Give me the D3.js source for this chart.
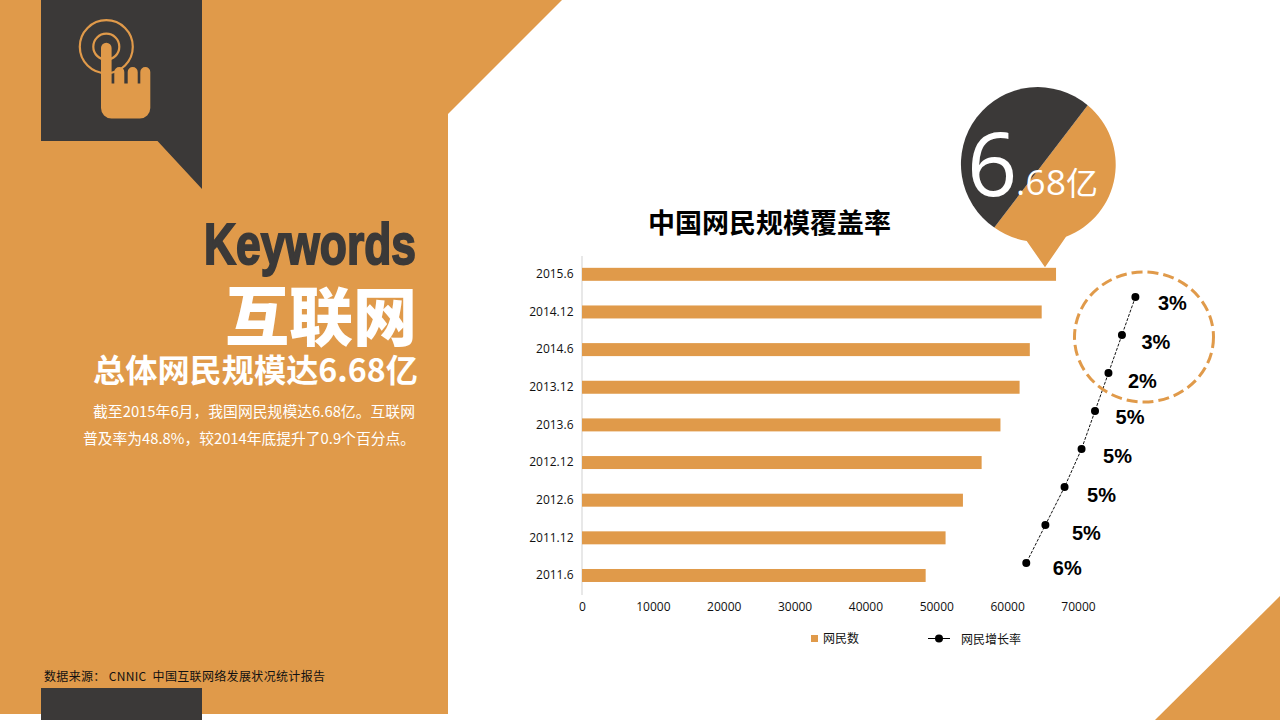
<!DOCTYPE html>
<html><head><meta charset="utf-8">
<script src="https://cdn.jsdelivr.net/npm/d3@7/dist/d3.min.js"></script>
<style>html,body{margin:0;padding:0;background:#fff;overflow:hidden}svg{display:block}</style>
</head><body><svg id="c" width="1280" height="720"></svg>
<script>
const categories = ["2015.6","2014.12","2014.6","2013.12","2013.6","2012.12","2012.6","2011.12","2011.6"];
const netizens = [66900,64875,63200,61758,59056,56400,53760,51310,48500];
const growthPeriods = ["2015.6","2014.12","2014.6","2013.12","2013.6","2012.12","2012.6","2011.12"];
const growthPosition = [78100,76200,74300,72400,70500,68100,65400,62700];
const growthLabels = ["3%","3%","2%","5%","5%","5%","5%","6%"];
const axisTicks = [0,10000,20000,30000,40000,50000,60000,70000];
const labelNudgeX = [37,34,34,35,36,37,41,41];
const labelNudgeY = [6,7,8,6,7,8,8,5];

const ORANGE="#e09a4a", DARK="#3b3938";
const CJK='"Noto Sans CJK SC","Noto Sans",sans-serif';
const svg=d3.select("#c");
const poly=(pts,fill)=>svg.append("path").attr("d","M"+pts.map(p=>p.join(",")).join("L")+"Z").attr("fill",fill);

// background panels
poly([[0,0],[562,0],[448,114],[448,714],[0,714]],ORANGE);
poly([[1280,596],[1155,720],[1280,720]],ORANGE);
poly([[41,688],[202,688],[202,720],[41,720]],DARK);
poly([[41,0],[202,0],[202,189],[157.5,141],[41,141]],DARK);

// hand icon
const ic=svg.append("g");
ic.append("circle").attr("cx",106.3).attr("cy",46.7).attr("r",26.5).attr("fill","none").attr("stroke",ORANGE).attr("stroke-width",2.2);
ic.append("circle").attr("cx",106.3).attr("cy",46.7).attr("r",13).attr("fill","none").attr("stroke",ORANGE).attr("stroke-width",2.2);
ic.append("path").attr("fill",ORANGE).attr("d",
 "M101,48a5.3,5.3 0 0 1 10.6,0V83.5H114.3V72a5,5 0 0 1 10,0V83.5H127.7V72a5,5 0 0 1 10,0V83.5H140.3V72a5,5 0 0 1 10,0V108a10.5,10.5 0 0 1 -10.5,10.5H111.5a10.5,10.5 0 0 1 -10.5,-10.5Z");

// left copy
const txt=(x,y,s,size,fill,o={})=>svg.append("text").attr("x",x).attr("y",y).text(s)
  .attr("font-family",o.family||CJK).attr("font-size",size).attr("fill",fill)
  .attr("font-weight",o.weight||400).attr("text-anchor",o.anchor||"end");
txt(416,264,"Keywords",58,DARK,{family:'"Liberation Sans Narrow","Liberation Sans",sans-serif',weight:700})
  .attr("stroke",DARK).attr("stroke-width",2).attr("textLength",212).attr("lengthAdjust","spacingAndGlyphs");
txt(417,340,"互联网",64,"#fff",{weight:900});
txt(418,382,"总体网民规模达6.68亿",32,"#fff",{weight:700}).attr("textLength",325).attr("lengthAdjust","spacingAndGlyphs");
txt(415,417,"截至2015年6月，我国网民规模达6.68亿。互联网",15,"#fff",{weight:400}).attr("textLength",322).attr("lengthAdjust","spacingAndGlyphs");
txt(415,444,"普及率为48.8%，较2014年底提升了0.9个百分点。",15,"#fff",{weight:400}).attr("textLength",332).attr("lengthAdjust","spacingAndGlyphs");
txt(44,681,"数据来源： CNNIC  中国互联网络发展状况统计报告",12,"#111",{anchor:"start"}).attr("xml:space","preserve").attr("textLength",281).attr("lengthAdjust","spacing");

// chart
const x=d3.scaleLinear().domain([0,70000]).range([582,1078]);
const y=d3.scaleBand().domain(categories).range([255.4,594.4]).paddingInner(0.655).paddingOuter(0.33);
const yLine=d3.scalePoint().domain(growthPeriods).range([297,563]);

txt(769.5,233,"中国网民规模覆盖率",27,"#000",{weight:700,anchor:"middle"});

const ax=svg.append("g").attr("transform","translate(0,594)").call(d3.axisBottom(x).tickValues(axisTicks).tickSize(0).tickPadding(8).tickFormat(d3.format("d")));
ax.select(".domain").remove();
ax.selectAll("text").attr("font-family",'"Open Sans",sans-serif').attr("font-size",12).attr("fill","#111");
const ay=svg.append("g").attr("transform","translate(581.5,0)").call(d3.axisLeft(y).tickSize(0).tickPadding(8));
ay.select(".domain").attr("stroke","#d9d9d9").attr("stroke-width",1.2);
ay.selectAll("text").attr("font-family",'"Open Sans",sans-serif').attr("font-size",12).attr("fill","#111");

svg.append("g").selectAll("rect").data(categories).join("rect")
  .attr("x",x(0)).attr("y",d=>y(d)).attr("height",y.bandwidth())
  .attr("width",(d,i)=>x(netizens[i])-x(0)).attr("fill",ORANGE);

const line=d3.line().x((d,i)=>x(growthPosition[i])).y(d=>yLine(d));
svg.append("path").attr("d",line(growthPeriods)).attr("fill","none").attr("stroke","#111").attr("stroke-width",1).attr("stroke-dasharray","3 1.5");
svg.append("g").selectAll("circle").data(growthPeriods).join("circle")
  .attr("cx",(d,i)=>x(growthPosition[i])).attr("cy",d=>yLine(d)).attr("r",4).attr("fill","#000");
svg.append("g").selectAll("text").data(growthPeriods).join("text")
  .attr("x",(d,i)=>x(growthPosition[i])+labelNudgeX[i]).attr("y",(d,i)=>yLine(d)+labelNudgeY[i]+7)
  .attr("text-anchor","middle").attr("font-family",'"Liberation Sans",sans-serif').attr("font-weight",700).attr("font-size",20)
  .attr("fill","#000").text((d,i)=>growthLabels[i]);

// dashed highlight ring
svg.append("ellipse").attr("cx",1144).attr("cy",337).attr("rx",69.5).attr("ry",65)
  .attr("fill","none").attr("stroke",ORANGE).attr("stroke-width",3).attr("stroke-dasharray","11 5");

// callout pin
const cx=1038.7,cy=164.5,r=77;
svg.append("path").attr("fill",ORANGE).attr("d",`M1087.7,105.3A${r},${r} 0 0 1 1066,236.7L1045,267.3L1026.7,241A${r},${r} 0 0 1 994.3,227.5Z`);
svg.append("path").attr("fill",DARK).attr("d",`M1087.7,105.3A${r},${r} 0 1 0 994.3,227.5Z`);
txt(967,196,"6",88,"#fff",{family:'"Open Sans",sans-serif',weight:400,anchor:"start"});
txt(1016,195,".68",35,"#fff",{family:'"Open Sans",sans-serif',weight:400,anchor:"start"}).attr("textLength",50);
txt(1066,195,"亿",32,"#fff",{weight:400,anchor:"start"});

// legend
const lg=svg.append("g");
lg.append("rect").attr("x",811).attr("y",635).attr("width",7).attr("height",7).attr("fill",ORANGE);
txt(823,643,"网民数",12,"#111",{anchor:"start"});
lg.append("line").attr("x1",928).attr("x2",950).attr("y1",638.5).attr("y2",638.5).attr("stroke","#000");
lg.append("circle").attr("cx",939).attr("cy",638.5).attr("r",4).attr("fill","#000");
txt(961,644,"网民增长率",12,"#111",{anchor:"start"});
</script></body></html>
